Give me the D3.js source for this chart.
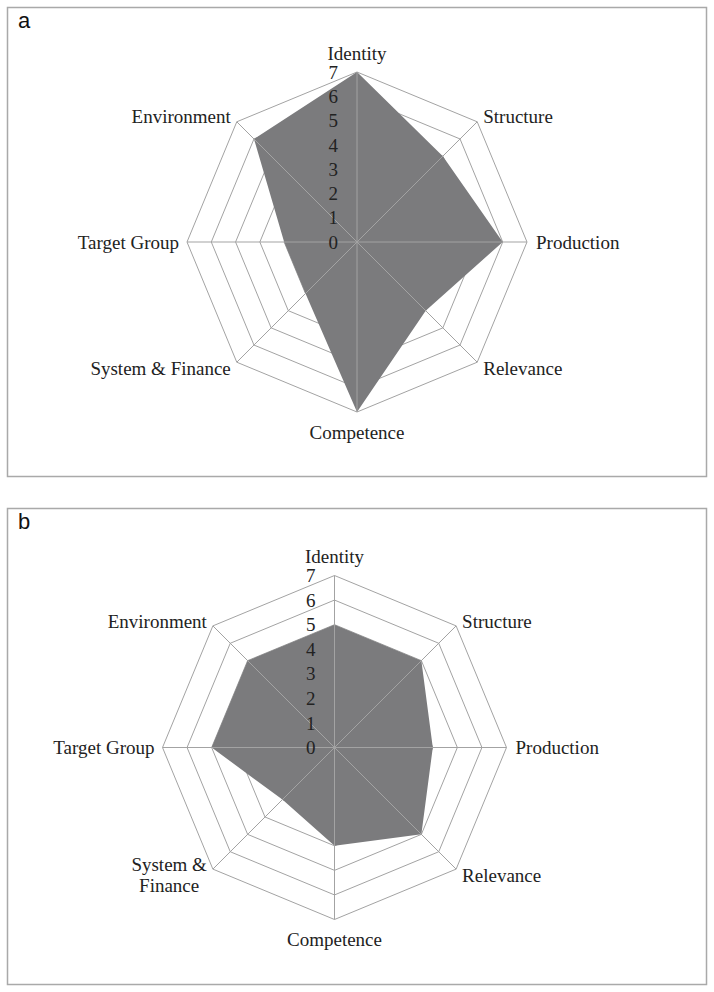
<!DOCTYPE html>
<html>
<head>
<meta charset="utf-8">
<script src="https://cdn.jsdelivr.net/npm/d3@7"></script>
<style>
  html, body { margin: 0; padding: 0; background: #fff; }
  svg { display: block; }
</style>
</head>
<body>
<svg id="chart" width="714" height="992"></svg>
<script>
(function () {
  'use strict';

  // ── Data ────────────────────────────────────────────────────────────────────
  var TICKS = [0, 1, 2, 3, 4, 5, 6, 7];
  var LABELS_A = ['Identity', 'Structure', 'Production', 'Relevance', 'Competence',
                  'System & Finance', 'Target Group', 'Environment'];
  var VALUES_A = [7, 5, 6, 4, 7, 3, 3, 6];
  var LABELS_B = ['Identity', 'Structure', 'Production', 'Relevance', 'Competence',
                  'System &\nFinance', 'Target Group', 'Environment'];
  var VALUES_B = [5, 5, 4, 5, 4, 3, 5, 5];

  var SERIF = '"Liberation Serif", "Times New Roman", serif';
  var GRID = '#a3a3a3';
  var FILL = '#7b7b7d';

  var svg = d3.select('#chart');

  function drawPanel(opts) {
    var g = svg.append('g');

    // frame
    g.append('rect')
      .attr('x', opts.box[0] + 0.5).attr('y', opts.box[1] + 0.5)
      .attr('width', opts.box[2]).attr('height', opts.box[3])
      .attr('fill', '#fff').attr('stroke', '#a9a9a9').attr('stroke-width', 1.5);

    g.append('text')
      .attr('x', opts.box[0] + 11).attr('y', opts.box[1] + 21)
      .attr('font-family', '"Liberation Sans", Arial, sans-serif')
      .attr('font-size', 22).attr('fill', '#111')
      .text(opts.letter);

    var cx = opts.cx, cy = opts.cy;
    var n = opts.labels.length;
    var r = d3.scaleLinear().domain([0, 7]).range([0, opts.R]);
    var angle = function (i) { return i * 2 * Math.PI / n; };
    var plot = g.append('g').attr('transform', 'translate(' + cx + ',' + cy + ')');

    var radial = d3.lineRadial()
      .angle(function (d) { return angle(d.i); })
      .radius(function (d) { return r(d.v); })
      .curve(d3.curveLinearClosed);

    // rings
    plot.append('g').selectAll('path')
      .data(TICKS.slice(1))
      .join('path')
      .attr('d', function (t) {
        return radial(d3.range(n).map(function (i) { return { i: i, v: t }; }));
      })
      .attr('fill', 'none').attr('stroke', GRID).attr('stroke-width', 1);

    // series area
    plot.append('path')
      .attr('d', radial(opts.values.map(function (v, i) { return { i: i, v: v }; })))
      .attr('fill', FILL);

    // spokes
    plot.append('g').selectAll('line')
      .data(d3.range(n))
      .join('line')
      .attr('x1', 0).attr('y1', 0)
      .attr('x2', function (i) { return r(7) * Math.sin(angle(i)); })
      .attr('y2', function (i) { return -r(7) * Math.cos(angle(i)); })
      .attr('stroke', GRID).attr('stroke-width', 1);

    // value axis labels
    plot.append('g').selectAll('text')
      .data(TICKS)
      .join('text')
      .attr('x', -19)
      .attr('y', function (t) { return -r(t); })
      .attr('dy', '0.35em')
      .attr('text-anchor', 'end')
      .attr('font-family', SERIF).attr('font-size', 19).attr('fill', '#222')
      .text(function (t) { return t; });

    // category labels
    opts.labels.forEach(function (lab, i) {
      var a = angle(i);
      var sx = Math.sin(a), sy = -Math.cos(a);
      var vx = r(7) * sx, vy = r(7) * sy;
      var lines = lab.split('\n');
      var x, y, anchor;
      if (Math.abs(sx) < 0.01) {
        anchor = 'middle'; x = vx; y = vy + (sy < 0 ? -19 : 20);
      } else if (Math.abs(sy) < 0.01) {
        anchor = sx > 0 ? 'start' : 'end'; x = vx + (sx > 0 ? 9 : -8); y = vy;
      } else {
        anchor = sx > 0 ? 'start' : 'end'; x = vx + (sx > 0 ? 6 : -6); y = vy + (sy < 0 ? -5 : 6);
      }
      var lh = 21;
      var t = plot.append('text')
        .attr('font-family', SERIF).attr('font-size', 19).attr('fill', '#222')
        .attr('text-anchor', lines.length > 1 ? 'middle' : anchor);
      lines.forEach(function (ln, k) {
        t.append('tspan')
          .attr('y', y + (k - (lines.length - 1) / 2) * lh)
          .attr('dy', '0.35em')
          .text(ln);
      });
      if (lines.length > 1) {
        // centre the block, keep its outer edge at the anchor point
        var w = d3.max(t.selectAll('tspan').nodes(), function (nd) { return nd.getComputedTextLength(); });
        var mx = anchor === 'end' ? x - w / 2 : (anchor === 'start' ? x + w / 2 : x);
        t.selectAll('tspan').attr('x', mx);
      } else {
        t.selectAll('tspan').attr('x', x);
      }
    });
  }

  drawPanel({ box: [7, 7, 699, 469], letter: 'a', cx: 357, cy: 242, R: 170,
              labels: LABELS_A, values: VALUES_A });
  drawPanel({ box: [7, 508, 699, 476], letter: 'b', cx: 334.5, cy: 747.5, R: 172,
              labels: LABELS_B, values: VALUES_B });
})();
</script>
</body>
</html>
